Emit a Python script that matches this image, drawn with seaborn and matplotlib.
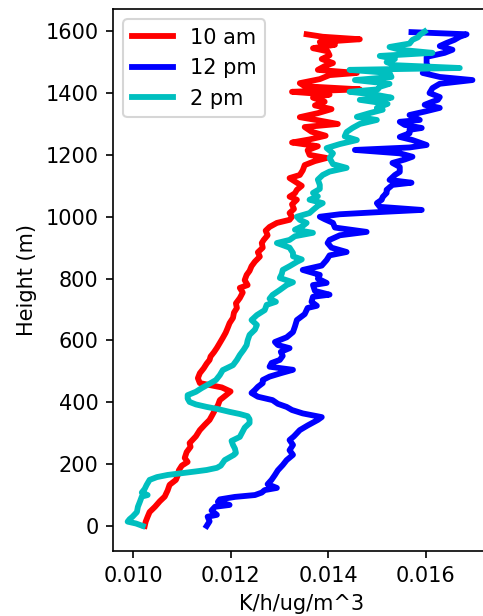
import pandas as pd
import seaborn as sns
import matplotlib.pyplot as plt

# profiles: height (m) and K/h/ug/m^3
h_10am = [0, 14, 30, 45, 62, 80, 95, 115, 133, 149, 165, 180, 195, 207, 220, 239, 256, 268, 290, 310,
          327, 343, 360, 375, 390, 407, 422, 435, 448, 462, 478, 494, 510, 525, 537, 548, 562, 576, 592, 608,
          625, 640, 656, 673, 690, 705, 720, 737, 755, 770, 779, 795, 812, 825, 840, 855, 871, 885, 900, 915,
          925, 940, 955, 967, 980, 990, 1000, 1012, 1025, 1040, 1055, 1065, 1076, 1087, 1100, 1112, 1125, 1135, 1150, 1167,
          1180, 1190, 1200, 1215, 1228, 1240, 1250, 1262, 1275, 1290, 1300, 1312, 1322, 1335, 1348, 1360, 1372, 1385, 1395, 1404,
          1412, 1422, 1432, 1445, 1458, 1465, 1475, 1487, 1497, 1510, 1522, 1535, 1545, 1556, 1565, 1574, 1582, 1590]
v_10am = [0.01024, 0.01026, 0.01030, 0.01034, 0.01045, 0.01055, 0.01065, 0.01071, 0.01075, 0.01088,
          0.01092, 0.01094, 0.01100, 0.01112, 0.01106, 0.01110, 0.01118, 0.01116, 0.01129, 0.01137,
          0.01147, 0.01157, 0.01163, 0.01168, 0.01174, 0.01178, 0.01190, 0.01200, 0.01182, 0.01137,
          0.01133, 0.01137, 0.01145, 0.01151, 0.01157, 0.01159, 0.01166, 0.01172, 0.01178, 0.01184,
          0.01190, 0.01194, 0.01198, 0.01205, 0.01207, 0.01213, 0.01211, 0.01219, 0.01225, 0.01219,
          0.01235, 0.01229, 0.01233, 0.01239, 0.01243, 0.01250, 0.01260, 0.01256, 0.01266, 0.01264,
          0.01268, 0.01276, 0.01272, 0.01280, 0.01295, 0.01321, 0.01326, 0.01321, 0.01330, 0.01326,
          0.01336, 0.01321, 0.01332, 0.01336, 0.01346, 0.01334, 0.01321, 0.01342, 0.01348, 0.01352,
          0.01373, 0.01397, 0.01362, 0.01358, 0.01379, 0.01326, 0.01362, 0.01395, 0.01366, 0.01352,
          0.01420, 0.01379, 0.01342, 0.01379, 0.01407, 0.01373, 0.01393, 0.01369, 0.01403, 0.01326,
          0.01465, 0.01352, 0.01342, 0.01383, 0.01403, 0.01459, 0.01379, 0.01393, 0.01410, 0.01387,
          0.01403, 0.01399, 0.01369, 0.01414, 0.01383, 0.01465, 0.01389, 0.01356]

h_12pm = [0, 15, 30, 36, 50, 62, 68, 78, 86, 94, 100, 108, 116, 123, 135, 149, 165, 180, 197, 213,
          230, 245, 262, 278, 290, 310, 325, 343, 352, 364, 375, 385, 395, 407, 418, 430, 440, 450, 462, 472,
          483, 494, 505, 515, 527, 537, 550, 563, 575, 585, 595, 610, 627, 645, 666, 685, 705, 712, 725, 741,
          748, 760, 779, 786, 800, 812, 828, 842, 860, 875, 886, 900, 915, 925, 940, 951, 965, 980, 992, 1000,
          1008, 1016, 1022, 1032, 1044, 1055, 1064, 1077, 1087, 1103, 1110, 1119, 1135, 1145, 1161, 1174, 1185, 1194, 1205, 1216,
          1224, 1232, 1248, 1258, 1270, 1281, 1287, 1297, 1307, 1313, 1329, 1340, 1352, 1362, 1372, 1378, 1387, 1400, 1416, 1430,
          1442, 1452, 1465, 1480, 1495, 1507, 1517, 1530, 1540, 1552, 1562, 1572, 1582, 1590, 1597]
v_12pm = [0.01151, 0.01157, 0.01153, 0.01172, 0.01161, 0.01168, 0.01198, 0.01174, 0.01178, 0.01209,
          0.01250, 0.01264, 0.01270, 0.01295, 0.01276, 0.01284, 0.01291, 0.01297, 0.01307, 0.01315,
          0.01328, 0.01321, 0.01328, 0.01321, 0.01330, 0.01342, 0.01358, 0.01379, 0.01387, 0.01348,
          0.01326, 0.01315, 0.01297, 0.01286, 0.01256, 0.01243, 0.01250, 0.01256, 0.01266, 0.01266,
          0.01280, 0.01303, 0.01328, 0.01280, 0.01284, 0.01301, 0.01307, 0.01303, 0.01321, 0.01297,
          0.01291, 0.01315, 0.01328, 0.01332, 0.01336, 0.01352, 0.01358, 0.01377, 0.01366, 0.01369,
          0.01403, 0.01373, 0.01369, 0.01397, 0.01379, 0.01383, 0.01348, 0.01387, 0.01397, 0.01403,
          0.01438, 0.01407, 0.01399, 0.01403, 0.01424, 0.01479, 0.01414, 0.01410, 0.01393, 0.01383,
          0.01424, 0.01516, 0.01592, 0.01506, 0.01500, 0.01510, 0.01512, 0.01520, 0.01520, 0.01532,
          0.01571, 0.01526, 0.01537, 0.01547, 0.01547, 0.01532, 0.01557, 0.01573, 0.01547, 0.01455,
          0.01567, 0.01602, 0.01573, 0.01547, 0.01567, 0.01567, 0.01592, 0.01557, 0.01547, 0.01588,
          0.01567, 0.01598, 0.01629, 0.01598, 0.01614, 0.01625, 0.01629, 0.01608, 0.01614, 0.01629,
          0.01696, 0.01629, 0.01594, 0.01608, 0.01602, 0.01602, 0.01602, 0.01639, 0.01655, 0.01629,
          0.01643, 0.01659, 0.01670, 0.01684, 0.01571]

h_2pm = [0, 8, 14, 22, 30, 45, 62, 78, 95, 100, 108, 120, 133, 149, 158, 165, 171, 176, 181, 188,
         195, 213, 230, 236, 250, 262, 275, 288, 300, 318, 333, 345, 355, 362, 369, 378, 385, 393, 401, 412,
         423, 434, 446, 460, 472, 488, 504, 520, 537, 553, 570, 585, 600, 618, 635, 650, 666, 682, 698, 715,
         725, 735, 747, 763, 779, 788, 802, 815, 828, 840, 854, 862, 872, 883, 900, 915, 925, 937, 948, 958,
         970, 980, 990, 1000, 1012, 1022, 1035, 1044, 1055, 1066, 1077, 1090, 1103, 1120, 1135, 1146, 1158, 1170, 1190, 1205,
         1222, 1235, 1248, 1260, 1274, 1287, 1300, 1313, 1323, 1335, 1346, 1352, 1365, 1378, 1385, 1395, 1404, 1412, 1420, 1430,
         1442, 1452, 1465, 1475, 1481, 1490, 1500, 1510, 1520, 1530, 1540, 1549, 1560, 1572, 1580, 1588, 1599]
v_2pm = [0.01020, 0.01006, 0.00989, 0.00993, 0.00999, 0.01008, 0.01010, 0.01014, 0.01018, 0.01030,
         0.01018, 0.01024, 0.01028, 0.01034, 0.01049, 0.01071, 0.01102, 0.01127, 0.01151, 0.01172,
         0.01180, 0.01188, 0.01207, 0.01211, 0.01209, 0.01205, 0.01202, 0.01219, 0.01223, 0.01229,
         0.01239, 0.01239, 0.01235, 0.01219, 0.01198, 0.01174, 0.01151, 0.01129, 0.01116, 0.01112,
         0.01112, 0.01129, 0.01141, 0.01157, 0.01170, 0.01178, 0.01184, 0.01205, 0.01213, 0.01219,
         0.01227, 0.01233, 0.01235, 0.01239, 0.01250, 0.01254, 0.01243, 0.01254, 0.01270, 0.01274,
         0.01293, 0.01280, 0.01286, 0.01301, 0.01315, 0.01328, 0.01301, 0.01305, 0.01307, 0.01321,
         0.01336, 0.01346, 0.01328, 0.01328, 0.01321, 0.01295, 0.01321, 0.01332, 0.01369, 0.01332,
         0.01348, 0.01356, 0.01342, 0.01336, 0.01362, 0.01369, 0.01379, 0.01389, 0.01362, 0.01379,
         0.01369, 0.01383, 0.01383, 0.01379, 0.01389, 0.01403, 0.01438, 0.01410, 0.01403, 0.01410,
         0.01397, 0.01424, 0.01459, 0.01434, 0.01438, 0.01450, 0.01465, 0.01500, 0.01459, 0.01485,
         0.01512, 0.01500, 0.01522, 0.01465, 0.01530, 0.01496, 0.01444, 0.01502, 0.01506, 0.01526,
         0.01455, 0.01530, 0.01526, 0.01444, 0.01670, 0.01537, 0.01520, 0.01537, 0.01506, 0.01614,
         0.01547, 0.01526, 0.01567, 0.01573, 0.01584, 0.01588, 0.01598]

labels = ['10 am', '12 pm', '2 pm']
colors = ['r', 'b', 'c']

frames = []
for lab, h, v in zip(labels, [h_10am, h_12pm, h_2pm], [v_10am, v_12pm, v_2pm]):
    frames.append(pd.DataFrame({'height': h, 'value': v, 'time': lab}))
df = pd.concat(frames, ignore_index=True)

fig = plt.figure(figsize=(483 / 150, 616 / 150), dpi=150)
ax = fig.add_axes([0.234, 0.1055, 0.7805, 0.880])

sns.lineplot(data=df, x='value', y='height', hue='time', palette=dict(zip(labels, colors)),
             sort=False, estimator=None, linewidth=2.8, ax=ax)

ax.set_xlim(0.00959, 0.01732)
ax.set_ylim(-81, 1672)
ax.set_xticks([0.010, 0.012, 0.014, 0.016])
ax.set_xlabel('K/h/ug/m^3')
ax.set_ylabel('Height (m)')

handles, labs = ax.get_legend_handles_labels()
for hd in handles:
    hd.set_linewidth(2.8)
ax.legend(handles, labs, loc='upper left')

fig.savefig('out.png', dpi=150)
